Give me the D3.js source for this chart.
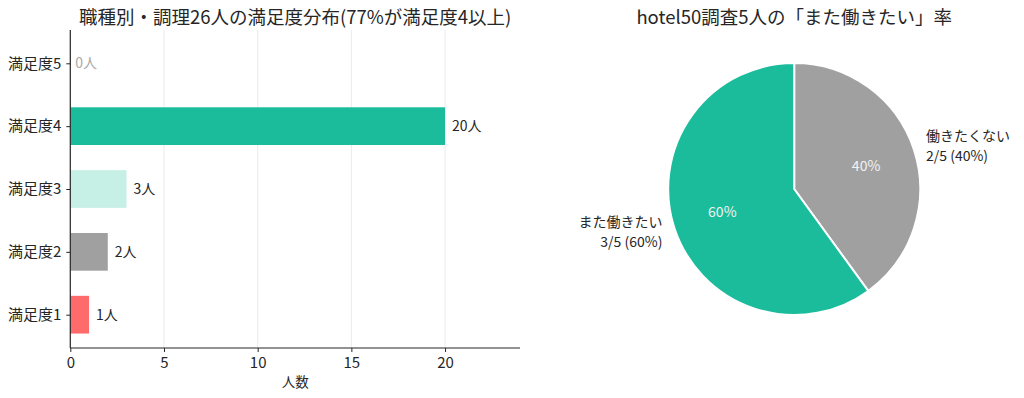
<!DOCTYPE html>
<html><head><meta charset="utf-8">
<script src="https://cdn.jsdelivr.net/npm/d3@7"></script>
<style>
body{margin:0;background:#fff;}
text{font-family:"Noto Sans CJK JP","Noto Sans",sans-serif;}
</style></head>
<body><svg id="c" width="1024" height="398"></svg>
<script>
const barCategories = ["満足度1","満足度2","満足度3","満足度4","満足度5"];
const barValues = [1,2,3,20,0];
const barColors = ["#ff6b6b","#a0a0a0","#c6f0e5","#1abc9c","#1abc9c"];
const barTitle = "職種別・調理26人の満足度分布(77%が満足度4以上)";
const xTicks = [0,5,10,15,20];
const xLabel = "人数";

const pieLabels = ["働きたくない","また働きたい"];
const pieValues = [2,3];
const pieColors = ["#a0a0a0","#1abc9c"];
const pieTitle = "hotel50調査5人の「また働きたい」率";

const svg = d3.select("#c");
const ink = "#262626";

// ---- bar chart ----
const L = 70.3, R = 520, T = 30, B = 348;
const x = d3.scaleLinear().domain([0,24]).range([L,R]);
const y = d3.scaleLinear().domain([-0.53,4.53]).range([B,T]);
const bh = y(0)-y(0.6);

const g = svg.append("g");
g.selectAll("line.grid").data(xTicks).enter().append("line")
  .attr("x1",d=>x(d)).attr("x2",d=>x(d)).attr("y1",T).attr("y2",B)
  .attr("stroke","#e6e6e6").attr("stroke-width",0.8);
g.selectAll("rect.bar").data(barValues).enter().append("rect")
  .attr("x",x(0)).attr("y",(d,i)=>y(i)-bh/2)
  .attr("width",d=>x(d)-x(0)).attr("height",bh)
  .attr("fill",(d,i)=>barColors[i]);
g.selectAll("text.val").data(barValues).enter().append("text")
  .attr("x",d=>x(d)+ (d===0?5:7)).attr("y",(d,i)=>y(i))
  .attr("dy","0.35em").attr("font-size",14)
  .attr("fill",d=>d===0?"#aaaaaa":ink)
  .text(d=>d+"人");
const xAxis = d3.axisBottom(x).tickValues(xTicks).tickSize(4).tickPadding(5);
const xa = g.append("g").attr("transform",`translate(0,${B})`).call(xAxis);
xa.select(".domain").attr("stroke",ink).attr("stroke-width",1.2).attr("d",`M${L},0H${R}`);
xa.selectAll(".tick line").attr("stroke",ink);
xa.selectAll(".tick text").attr("font-size",15).attr("fill",ink)
  .style("font-family","'Noto Sans CJK JP'");
const yAxis = d3.axisLeft(y).tickValues(d3.range(barCategories.length))
  .tickFormat(i=>barCategories[i]).tickSize(4).tickPadding(5);
const ya = g.append("g").attr("transform",`translate(${L},0)`).call(yAxis);
ya.select(".domain").attr("stroke",ink).attr("stroke-width",1.2).attr("d",`M0,${T}V${B}`);
ya.selectAll(".tick line").attr("stroke",ink);
ya.selectAll(".tick text").attr("font-size",15).attr("fill",ink)
  .style("font-family","'Noto Sans CJK JP'");
g.append("text").attr("x",(L+R)/2).attr("y",387).attr("text-anchor","middle")
  .attr("font-size",13.5).attr("fill",ink).text(xLabel);
g.append("text").attr("x",(L+R)/2).attr("y",24).attr("text-anchor","middle")
  .attr("font-size",18.5).attr("fill",ink).text(barTitle);

// ---- pie ----
const cx = 794.2, cy = 189, r = 126;
const pie = d3.pie().sort(null).value(d=>d)(pieValues);
const arc = d3.arc().innerRadius(0).outerRadius(r);
const pg = svg.append("g").attr("transform",`translate(${cx},${cy})`);
pg.selectAll("path").data(pie).enter().append("path")
  .attr("d",arc).attr("fill",(d,i)=>pieColors[i])
  .attr("stroke","#fff").attr("stroke-width",2);
const total = d3.sum(pieValues);
pie.forEach((d,i)=>{
  const a = (d.startAngle+d.endAngle)/2;
  const sx = Math.sin(a), sy = -Math.cos(a);
  const pct = Math.round(d.value/total*100);
  pg.append("text").attr("x",0.6*r*sx).attr("y",0.6*r*sy).attr("dy","0.35em")
    .attr("text-anchor","middle").attr("font-size",14).attr("fill","#f2f2f2")
    .text(pct+"%");
  const lx = 1.1*r*sx, ly = 1.1*r*sy;
  const anchor = sx>=0?"start":"end";
  pg.append("text").attr("text-anchor",anchor).attr("font-size",14).attr("fill",ink)
    .attr("x",lx).attr("y",ly-9.8).attr("dy","0.35em").text(pieLabels[i]);
  pg.append("text").attr("text-anchor",anchor).attr("font-size",14).attr("fill",ink)
    .attr("x",lx).attr("y",ly+9.8).attr("dy","0.35em")
    .text(`${d.value}/${total} (${pct}%)`);
});
svg.append("text").attr("x",cx).attr("y",24).attr("text-anchor","middle")
  .attr("font-size",18.5).attr("fill",ink).text(pieTitle);
</script></body></html>
